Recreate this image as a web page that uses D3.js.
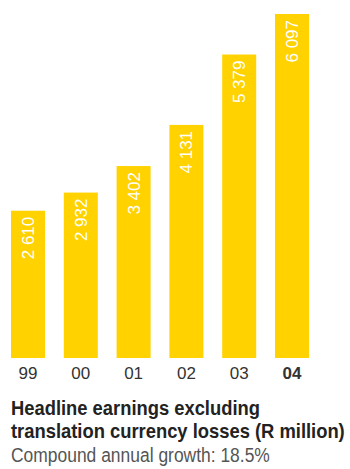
<!DOCTYPE html>
<html>
<head>
<meta charset="utf-8">
<script src="https://cdn.jsdelivr.net/npm/d3@7"></script>
<style>
  html, body { margin: 0; padding: 0; background: #fff; }
  svg { display: block; }
</style>
</head>
<body>
<script>
// Headline earnings excluding translation currency losses, R million
const years = ["99", "00", "01", "02", "03", "04"];
const earnings = [2610, 2932, 3402, 4131, 5379, 6097];
const titleLines = ["Headline earnings excluding", "translation currency losses (R million)"];
const subtitle = "Compound annual growth: 18.5%";

const width = 350, height = 469;
const barColor = "#ffd200";
const fontFamily = "'Liberation Sans', Arial, sans-serif";

const svg = d3.select("body").append("svg")
  .attr("width", width)
  .attr("height", height);

const x = d3.scaleBand()
  .domain(years)
  .range([11, 309])
  .paddingInner(0.356)
  .paddingOuter(0);

const y = d3.scaleLinear()
  .domain([0, d3.max(earnings)])
  .range([358, 14]);

// Numbers use a space as thousands separator
const fmt = d3.formatLocale({ decimal: ".", thousands: " ", grouping: [3], currency: ["", ""] }).format(",");

const data = years.map((yr, i) => ({ yr, v: earnings[i] }));

svg.append("g").selectAll("rect")
  .data(data)
  .join("rect")
  .attr("x", d => x(d.yr))
  .attr("y", d => y(d.v))
  .attr("width", x.bandwidth())
  .attr("height", d => y(0) - y(d.v))
  .attr("fill", barColor);

// Rotated value labels inside the top of each bar
svg.append("g").selectAll("text")
  .data(data)
  .join("text")
  .attr("transform", d => `translate(${x(d.yr) + x.bandwidth() / 2 + 6},${y(d.v) + 6}) rotate(-90)`)
  .attr("text-anchor", "end")
  .attr("fill", "#fff")
  .style("font-family", fontFamily)
  .style("font-size", "17px")
  .text(d => fmt(d.v));

// Category axis (year labels only, no line or ticks)
const xAxis = svg.append("g")
  .attr("transform", `translate(0,${y(0)})`)
  .call(d3.axisBottom(x).tickSize(0).tickPadding(0));
xAxis.select(".domain").remove();
xAxis.selectAll("text")
  .attr("dy", null)
  .attr("y", 21)
  .attr("fill", "#333")
  .style("font-family", fontFamily)
  .style("font-size", "17px")
  .style("font-weight", d => d === years[years.length - 1] ? "bold" : "normal");

// Condensed text: squeeze a line horizontally to a given width
function condense(sel, left, baseline, target) {
  sel.each(function () {
    const w = this.getComputedTextLength();
    const s = Math.min(1, target / w);
    d3.select(this).attr("transform", `translate(${left},${baseline}) scale(${s},1)`);
  });
}

// Title and subtitle
const titleWidths = [249, 334];
svg.append("g").selectAll("text")
  .data(titleLines)
  .join("text")
  .attr("fill", "#222")
  .style("font-family", fontFamily)
  .style("font-size", "21px")
  .style("font-weight", "bold")
  .text(d => d)
  .each(function (d, i) { condense(d3.select(this), 11, 415 + i * 22.5, titleWidths[i]); });

svg.append("text")
  .attr("fill", "#555")
  .style("font-family", fontFamily)
  .style("font-size", "21px")
  .text(subtitle)
  .call(condense, 11, 462, 259);
</script>
</body>
</html>
